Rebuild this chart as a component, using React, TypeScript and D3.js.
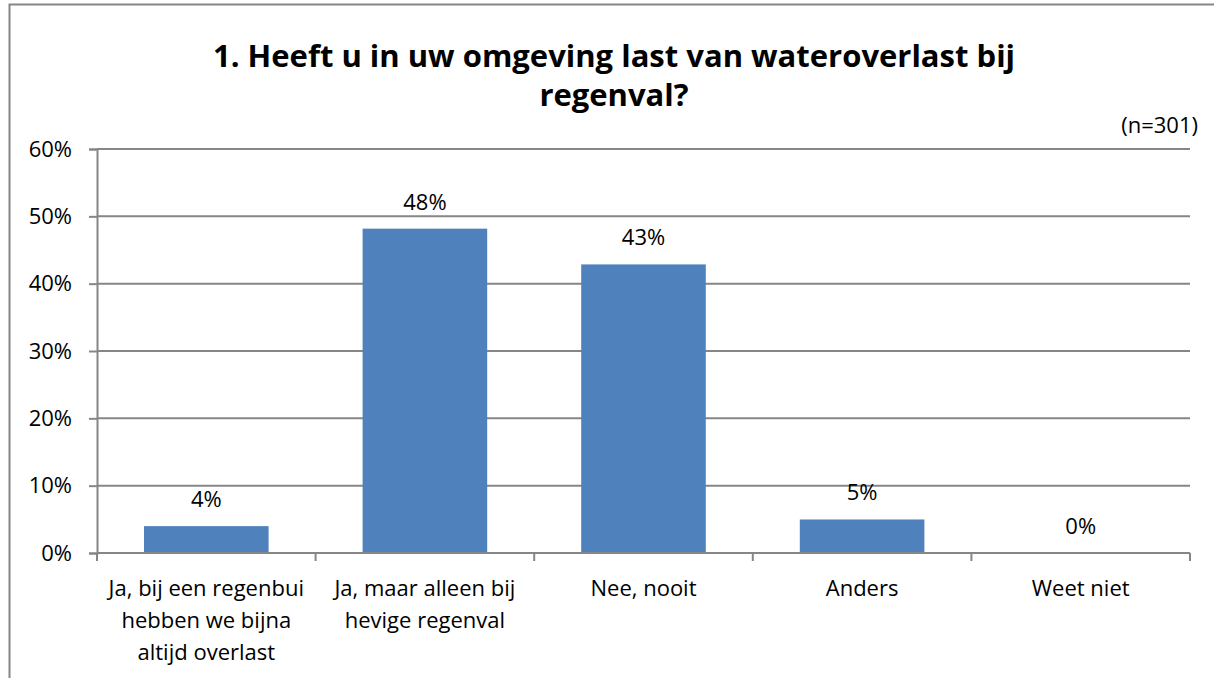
import React, { useEffect, useRef } from 'react';
import * as d3 from 'd3';

const categories: string[][] = [
  ['Ja, bij een regenbui', 'hebben we bijna', 'altijd overlast'],
  ['Ja, maar alleen bij', 'hevige regenval'],
  ['Nee, nooit'],
  ['Anders'],
  ['Weet niet'],
];
const values = [0.0399, 0.4817, 0.4286, 0.0498, 0];
const valueLabels = ['4%', '48%', '43%', '5%', '0%'];
const yTicks = [0, 0.1, 0.2, 0.3, 0.4, 0.5, 0.6];
const titleLines = ['1. Heeft u in uw omgeving last van wateroverlast bij', 'regenval?'];
const note = '(n=301)';

const W = 1214;
const H = 678;
const FONT = '"Open Sans", "Liberation Sans", sans-serif';
const FS = 22;

const App: React.FC = () => {
  const ref = useRef<SVGSVGElement>(null);

  useEffect(() => {
    const svg = d3.select(ref.current);
    svg.selectAll('*').remove();

    const left = 97;
    const right = 1190;
    const top = 149;
    const bottom = 553;

    // outer frame
    svg.append('rect')
      .attr('x', 9.5).attr('y', 4.5)
      .attr('width', W + 20).attr('height', H + 20)
      .attr('fill', 'none').attr('stroke', '#868686').attr('stroke-width', 2);

    const x = d3.scaleBand<number>()
      .domain(d3.range(categories.length))
      .range([left, right])
      .paddingInner(0.43)
      .paddingOuter(0.215);

    const y = d3.scaleLinear().domain([0, 0.6]).range([bottom, top]);

    // title
    svg.append('g')
      .selectAll('text')
      .data(titleLines)
      .enter()
      .append('text')
      .attr('x', 614)
      .attr('y', (_, i) => 67 + i * 39)
      .attr('text-anchor', 'middle')
      .attr('font-family', FONT)
      .attr('font-weight', 'bold')
      .attr('font-size', 31)
      .attr('fill', '#000')
      .text((d) => d);

    svg.append('text')
      .attr('x', 1198).attr('y', 133)
      .attr('text-anchor', 'end')
      .attr('font-family', FONT).attr('font-size', FS)
      .text(note);

    // gridlines + y axis
    const yAxis = d3.axisLeft(y)
      .tickValues(yTicks)
      .tickFormat(d3.format('.0%'))
      .tickSize(8)
      .tickPadding(17);

    const gy = svg.append('g').attr('transform', `translate(${left},0)`).call(yAxis);
    gy.select('.domain').attr('stroke', '#868686').attr('stroke-width', 2);
    gy.selectAll('.tick line').attr('stroke', '#868686').attr('stroke-width', 2);
    gy.selectAll('.tick text')
      .attr('font-family', FONT).attr('font-size', FS).attr('fill', '#000');

    svg.append('g')
      .selectAll('line')
      .data(yTicks)
      .enter()
      .append('line')
      .attr('x1', left).attr('x2', right)
      .attr('y1', (d) => y(d)).attr('y2', (d) => y(d))
      .attr('stroke', '#868686').attr('stroke-width', 2);

    // bars
    svg.append('g')
      .selectAll('rect')
      .data(values)
      .enter()
      .append('rect')
      .attr('x', (_, i) => x(i) ?? 0)
      .attr('y', (d) => y(d))
      .attr('width', x.bandwidth())
      .attr('height', (d) => bottom - y(d))
      .attr('fill', '#4F81BD');

    svg.append('g')
      .selectAll('text')
      .data(values)
      .enter()
      .append('text')
      .attr('x', (_, i) => (x(i) ?? 0) + x.bandwidth() / 2)
      .attr('y', (d) => y(d) - 19)
      .attr('text-anchor', 'middle')
      .attr('font-family', FONT).attr('font-size', FS)
      .text((_, i) => valueLabels[i]);

    // x axis line and ticks at category boundaries
    const step = (right - left) / categories.length;
    svg.append('line')
      .attr('x1', left).attr('x2', right)
      .attr('y1', bottom).attr('y2', bottom)
      .attr('stroke', '#868686').attr('stroke-width', 2);
    svg.append('g')
      .selectAll('line')
      .data(d3.range(categories.length + 1))
      .enter()
      .append('line')
      .attr('x1', (i) => left + i * step).attr('x2', (i) => left + i * step)
      .attr('y1', bottom).attr('y2', bottom + 8)
      .attr('stroke', '#868686').attr('stroke-width', 2);

    // category labels
    const lbl = svg.append('g')
      .selectAll('text')
      .data(categories)
      .enter()
      .append('text')
      .attr('text-anchor', 'middle')
      .attr('font-family', FONT).attr('font-size', FS)
      .attr('fill', '#000');
    lbl.selectAll('tspan')
      .data((d, i) => d.map((line) => ({ line, i })))
      .enter()
      .append('tspan')
      .attr('x', (d) => (x(d.i) ?? 0) + x.bandwidth() / 2)
      .attr('y', (_, j) => 596 + j * 32)
      .text((d) => d.line);
  }, []);

  return (
    <svg
      ref={ref}
      width={W}
      height={H}
      style={{ position: 'absolute', left: 0, top: 0, background: '#fff' }}
    />
  );
};

export default App;
